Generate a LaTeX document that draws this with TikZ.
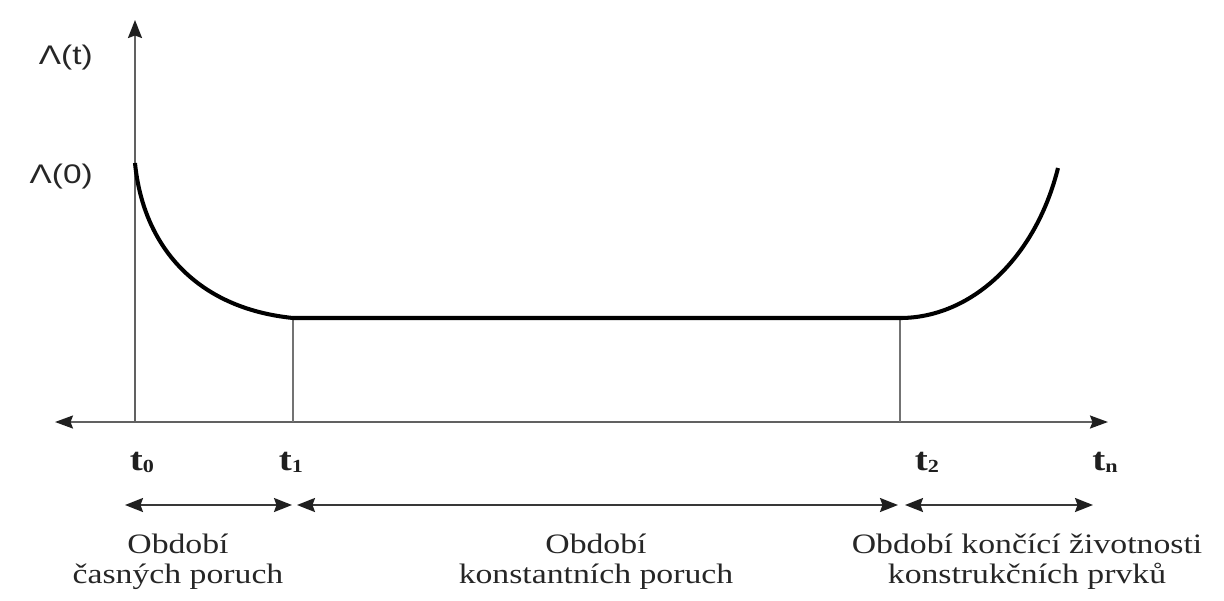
\documentclass[tikz,border=0pt]{standalone}
\usepackage{fontspec}
\setmainfont{Liberation Serif}
\newfontfamily\capfont[FakeStretch=1.2]{Liberation Serif}
\newfontfamily\axfont[FakeStretch=1.24]{Liberation Sans}
\usetikzlibrary{arrows.meta}
\newcommand{\tsub}[1]{{\fontsize{10.5}{11}\selectfont\raisebox{-1.2pt}{#1}}}
\tikzset{
  axisline/.style={draw=black!62, line width=1.1pt},
  guide/.style={draw=black!55, line width=0.8pt},
  hazard/.style={draw=black, line width=2.3pt},
  spanarrow/.style={draw=black!78, line width=1.1pt,
    {Stealth[length=0.36cm,width=0.28cm,inset=0.05cm,color=black!88]}-{Stealth[length=0.36cm,width=0.28cm,inset=0.05cm,color=black!88]}},
  ylab/.style={anchor=base east, inner sep=0pt, text=black!85,
    font=\axfont\fontsize{15.3}{16}\selectfont},
  tlabel/.style={anchor=base, inner sep=0pt, text=black!88,
    font=\capfont\bfseries\fontsize{18.5}{20}\selectfont},
  period/.style={anchor=base, inner sep=0pt, align=center, text=black!85,
    font=\capfont\fontsize{16}{17}\selectfont}
}
\begin{document}
\begin{tikzpicture}[x=0.02cm,y=-0.02cm]
\useasboundingbox (0,0) rectangle (1224,600);

% axes
\coordinate (O) at (135,422);
\coordinate (ytop) at (135,20);
\coordinate (xl) at (55,422);
\coordinate (xr) at (1108,422);
\draw[axisline,-{Stealth[length=0.36cm,width=0.28cm,inset=0.05cm,color=black!88]}] (O) -- (ytop);
\draw[axisline,{Stealth[length=0.36cm,width=0.26cm,inset=0.05cm,color=black!88]}-{Stealth[length=0.36cm,width=0.26cm,inset=0.05cm,color=black!88]}] (xl) -- (xr);

% bathtub curve
\coordinate (c0) at (135,163);
\coordinate (c1) at (293,318);
\coordinate (c2) at (900,318);
\coordinate (c3) at (1058,168);
\coordinate (f1) at (293,422);
\coordinate (f2) at (900,422);
\draw[guide] (f1) -- (c1);
\draw[guide] (f2) -- (c2);
\draw[hazard] (c0) .. controls (143,245) and (195,308) .. (c1) -- (c2)
  .. controls (970,318) and (1035,260) .. (c3);

% axis labels
\node[ylab] (lt) at (93,64) {Λ(t)};
\node[ylab] (l0) at (93,183) {Λ(0)};

\node[tlabel] (t0) at (142,470) {t\tsub{0}};
\node[tlabel] (t1) at (291,470) {t\tsub{1}};
\node[tlabel] (t2) at (927,470) {t\tsub{2}};
\node[tlabel] (tn) at (1105,470) {t\tsub{n}};

% periods
\coordinate (p0) at (125,505);
\coordinate (p1) at (292,505);
\coordinate (p2) at (297,505);
\coordinate (p3) at (898,505);
\coordinate (p4) at (905,505);
\coordinate (p5) at (1093,505);
\draw[spanarrow] (p0) -- (p1);
\draw[spanarrow] (p2) -- (p3);
\draw[spanarrow] (p4) -- (p5);

% the base anchor of a two-line node sits on its second line
\node[period] (r1) at (178,583) {Období\\časných poruch};
\node[period] (r2) at (596,583) {Období\\konstantních poruch};
\node[period] (r3) at (1027,583) {Období končící životnosti\\konstrukčních prvků};
\end{tikzpicture}
\end{document}
